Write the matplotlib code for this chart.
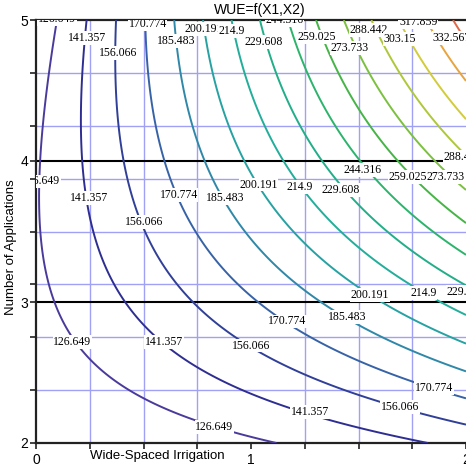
import numpy as np
import matplotlib
matplotlib.use('Agg')
import matplotlib.pyplot as plt
from matplotlib.ticker import FixedLocator

# WUE response surface, coefficients
# WUE = c0 + b1*X1 + b2*X2 + c11*X1^2 + c22*X2^2 + c12*X1*X2
c0, b1, b2 = 48.82, -50.35, 41.5
c11, c22, c12 = 3.0, -5.6, 31.2

x1_range = [0.0, 2.0]     # Wide-Spaced Irrigation
x2_range = [2.0, 5.0]     # Number of Applications

levels = [126.649, 141.357, 156.066, 170.774, 185.483, 200.191, 214.9, 229.608,
          244.316, 259.025, 273.733, 288.442, 303.15, 317.859, 332.567]
level_colors = ['#4a3a9c', '#2e2e92', '#303f98', '#3763a6', '#2f88a8', '#27a2a2',
                '#22ae9a', '#22ae88', '#2cb46c', '#46b446', '#7cc040', '#aec83a',
                '#d2cc3a', '#e8a43e', '#e06848']

# label spots: (level index, x1, x2)
label_spots = [
    (0, 0.097, 5.007), (1, 0.236, 4.872), (2, 0.380, 4.766), (3, 0.519, 4.972),
    (4, 0.653, 4.851), (5, 0.782, 4.936), (6, 0.912, 4.922), (7, 1.060, 4.844),
    (8, 1.157, 5.000), (9, 1.308, 4.879), (10, 1.458, 4.801), (11, 1.546, 4.929),
    (12, 1.690, 4.865), (13, 1.778, 4.986), (14, 1.935, 4.872),
    (0, 0.025, 3.855), (1, 0.248, 3.738), (2, 0.502, 3.567), (3, 0.664, 3.759),
    (4, 0.880, 3.738), (5, 1.035, 3.833), (6, 1.225, 3.816), (7, 1.419, 3.794),
    (8, 1.521, 3.936), (9, 1.729, 3.887), (10, 1.907, 3.887), (11, 1.986, 4.028),
    (0, 0.169, 2.716), (1, 0.595, 2.716), (2, 1.002, 2.691), (3, 1.169, 2.862),
    (4, 1.447, 2.894), (5, 1.553, 3.050), (6, 1.801, 3.064), (7, 2.000, 3.071),
    (0, 0.829, 2.113), (1, 1.273, 2.220), (2, 1.694, 2.255), (3, 1.852, 2.390),
]

x1 = np.linspace(x1_range[0], x1_range[1], 300)
x2 = np.linspace(x2_range[0], x2_range[1], 300)
X1, X2 = np.meshgrid(x1, x2)
Z = c0 + b1 * X1 + b2 * X2 + c11 * X1 ** 2 + c22 * X2 ** 2 + c12 * X1 * X2

plt.rcParams['font.family'] = ['Liberation Sans', 'DejaVu Sans']

fig = plt.figure(figsize=(4.66, 4.68), dpi=100)
ax = fig.add_axes([36 / 466, 25 / 468, 430 / 466, 423 / 468])

ax.contour(X1, X2, Z, levels=levels, colors=level_colors, linewidths=1.4, zorder=3)

for idx, lx, ly in label_spots:
    ax.text(lx, ly, f'{levels[idx]:g}', ha='center', va='center', fontsize=8.5,
            family=['Liberation Serif', 'DejaVu Serif'], zorder=4, clip_on=True,
            bbox=dict(boxstyle='square,pad=0.05', fc='white', ec='none'))

ax.set_xlim(x1_range)
ax.set_ylim(x2_range)

# grid
ax.xaxis.set_major_locator(FixedLocator([0, 1, 2]))
ax.xaxis.set_minor_locator(FixedLocator(np.arange(0, 2.01, 0.25)))
ax.yaxis.set_major_locator(FixedLocator([2, 3, 4, 5]))
ax.yaxis.set_minor_locator(FixedLocator(np.linspace(2, 5, 9)))
ax.grid(which='minor', color='#a0a0f4', linewidth=1.0, zorder=1)
ax.set_axisbelow(True)
for yy in [3, 4]:
    ax.axhline(yy, color='black', linewidth=1.5, zorder=2)

ax.tick_params(which='both', direction='out', length=4, width=1.2, colors='#222222',
               labelcolor='black', labelsize=10)
ax.tick_params(axis='x', pad=3.5)
ax.tick_params(axis='y', pad=1.5)
for s in ax.spines.values():
    s.set_linewidth(1.6)
    s.set_color('#222222')
ax.spines['right'].set_visible(False)   # chart is cut at the right edge

fig.text(260 / 466, 1 - 10 / 468, 'WUE=f(X1,X2)', ha='center', va='center', fontsize=10)
fig.text(157 / 466, 1 - 456 / 468, 'Wide-Spaced Irrigation', ha='center', va='center', fontsize=9.5)
fig.text(11.5 / 466, 1 - 247 / 468, 'Number of Applications', ha='center', va='center',
         rotation=90, fontsize=9.5)

fig.savefig('out.png', dpi=100)
